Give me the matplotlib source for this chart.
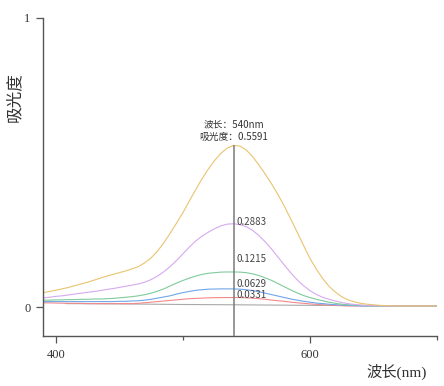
import matplotlib
matplotlib.use("Agg")
import matplotlib.pyplot as plt

# ----------------------------------------------------------------------
# Data (5 nm steps)
# ----------------------------------------------------------------------
wavelength = list(range(390, 701, 5))

abs_yellow = [0.050, 0.054, 0.058, 0.063, 0.068, 0.074, 0.080, 0.086, 0.093, 0.100,
              0.107, 0.113, 0.119, 0.125, 0.132, 0.140, 0.153, 0.170, 0.193, 0.222,
              0.255, 0.290, 0.326, 0.366, 0.405, 0.443, 0.477, 0.507, 0.532, 0.550,
              0.5591, 0.557, 0.543, 0.520, 0.491, 0.459, 0.425, 0.388, 0.348, 0.304,
              0.259, 0.213, 0.169, 0.132, 0.099, 0.072, 0.052, 0.036, 0.025, 0.018,
              0.013, 0.010, 0.008, 0.006, 0.005, 0.004, 0.004, 0.004, 0.004, 0.004,
              0.004, 0.004, 0.004]
abs_purple = [0.032, 0.034, 0.037, 0.039, 0.042, 0.045, 0.048, 0.051, 0.054, 0.057,
              0.061, 0.064, 0.068, 0.072, 0.076, 0.080, 0.086, 0.095, 0.107, 0.122,
              0.140, 0.161, 0.184, 0.207, 0.228, 0.245, 0.259, 0.271, 0.281, 0.287,
              0.2883, 0.285, 0.278, 0.265, 0.247, 0.225, 0.200, 0.172, 0.145, 0.118,
              0.094, 0.074, 0.057, 0.044, 0.034, 0.027, 0.021, 0.016, 0.012, 0.009,
              0.007, 0.006, 0.005, 0.004, 0.004, 0.004, 0.004, 0.004, 0.004, 0.004,
              0.004, 0.004, 0.004]
abs_green = [0.024, 0.024, 0.025, 0.025, 0.026, 0.026, 0.027, 0.027, 0.028, 0.028,
             0.029, 0.030, 0.032, 0.034, 0.036, 0.039, 0.043, 0.048, 0.055, 0.063,
             0.073, 0.083, 0.092, 0.100, 0.107, 0.113, 0.117, 0.119, 0.121, 0.1215,
             0.1215, 0.121, 0.119, 0.115, 0.109, 0.101, 0.092, 0.081, 0.070, 0.059,
             0.049, 0.040, 0.033, 0.027, 0.022, 0.017, 0.013, 0.010, 0.008, 0.007,
             0.006, 0.005, 0.004, 0.004, 0.004, 0.004, 0.004, 0.004, 0.004, 0.004,
             0.004, 0.004, 0.004]
abs_blue = [0.019, 0.019, 0.019, 0.019, 0.019, 0.019, 0.019, 0.019, 0.019, 0.019,
            0.019, 0.019, 0.020, 0.020, 0.021, 0.022, 0.024, 0.027, 0.031, 0.035,
            0.039, 0.045, 0.050, 0.054, 0.058, 0.060, 0.062, 0.0625, 0.063, 0.063,
            0.0629, 0.062, 0.060, 0.057, 0.053, 0.048, 0.043, 0.038, 0.033, 0.028,
            0.024, 0.020, 0.017, 0.014, 0.012, 0.010, 0.008, 0.007, 0.006, 0.005,
            0.004, 0.004, 0.004, 0.004, 0.004, 0.004, 0.004, 0.004, 0.004, 0.004,
            0.004, 0.004, 0.004]
abs_red = [0.015, 0.0145, 0.014, 0.0135, 0.013, 0.013, 0.013, 0.012, 0.012, 0.012,
           0.012, 0.012, 0.012, 0.012, 0.012, 0.013, 0.015, 0.017, 0.019, 0.021,
           0.023, 0.025, 0.027, 0.029, 0.030, 0.031, 0.032, 0.0325, 0.033, 0.033,
           0.0331, 0.033, 0.032, 0.031, 0.029, 0.027, 0.024, 0.022, 0.020, 0.017,
           0.015, 0.013, 0.011, 0.0095, 0.008, 0.007, 0.006, 0.005, 0.004, 0.004,
           0.004, 0.004, 0.004, 0.004, 0.004, 0.004, 0.004, 0.004, 0.004, 0.004,
           0.004, 0.004, 0.004]

blank_wavelength = [408, 450, 500, 540, 600, 650, 700]
abs_blank = [0.012, 0.011, 0.009, 0.008, 0.006, 0.005, 0.004]

cursor_wavelength = 540
peak_values = [0.2883, 0.1215, 0.0629, 0.0331]

series = [abs_yellow, abs_purple, abs_green, abs_blue, abs_red]
colors = ["#e9c46f", "#d6a9f0", "#7fcb9a", "#6fa6ea", "#f28a8a"]

# label vertical nudges (points) so the small value labels do not collide
label_dy = [1.0, 9.5, 3.7, 1.5]

CJK = ["Noto Sans CJK SC", "DejaVu Sans"]
SERIF = ["Liberation Serif", "Noto Sans CJK SC"]

fig = plt.figure(figsize=(4.44, 3.86), dpi=100)
ax = fig.add_axes([43 / 444, 1 - 336 / 386, (437 - 43) / 444, (336 - 18) / 386])

ax.plot(blank_wavelength, abs_blank, color="#a9a9a9", linewidth=0.8)
for ys, c in zip(series[::-1], colors[::-1]):
    ax.plot(wavelength, ys, color=c, linewidth=0.8)

peak = abs_yellow[wavelength.index(cursor_wavelength)]
ax.vlines(cursor_wavelength, -0.1, peak, color="#7a7a7a", linewidth=1.1, zorder=5)

ax.annotate(f"吸光度：{peak:.4f}", (cursor_wavelength, peak),
            textcoords="offset points", xytext=(0, 6.3), ha="center", va="center",
            fontsize=7, family=CJK, color="#333333")
ax.annotate(f"波长：{cursor_wavelength}nm", (cursor_wavelength, peak),
            textcoords="offset points", xytext=(0, 15.0), ha="center", va="center",
            fontsize=7, family=CJK, color="#333333")

for v, dy in zip(peak_values, label_dy):
    ax.annotate(f"{v:.4f}", (cursor_wavelength, v),
                textcoords="offset points", xytext=(2, dy), ha="left", va="center",
                fontsize=7, family=CJK, color="#444444")

ax.set_xlim(390, 700)
ax.set_ylim(-0.1, 1.0)
ax.set_xticks([400, 600])
ax.set_xticks([500, 700], minor=True)
ax.set_yticks([0, 1])
ax.set_yticklabels(["0", "1"])

for side in ("top", "right"):
    ax.spines[side].set_visible(False)
for side in ("left", "bottom"):
    ax.spines[side].set_color("#555555")
    ax.spines[side].set_linewidth(1.0)

ax.tick_params(axis="both", which="major", length=5, width=0.9, color="#555555",
               labelsize=9, labelcolor="#333333", pad=4)
ax.tick_params(axis="x", which="minor", length=3, width=0.9, color="#555555")
for lab in ax.get_xticklabels() + ax.get_yticklabels():
    lab.set_family(SERIF)

fig.text(15 / 444, 1 - 97 / 386, "吸光度", rotation=90, ha="center", va="center",
         fontsize=12, family=SERIF, color="#333333")
fig.text(397 / 444, 1 - 372 / 386, "波长(nm)", ha="center", va="center",
         fontsize=11, family=SERIF, color="#333333")

fig.savefig("out.png", dpi=100)
